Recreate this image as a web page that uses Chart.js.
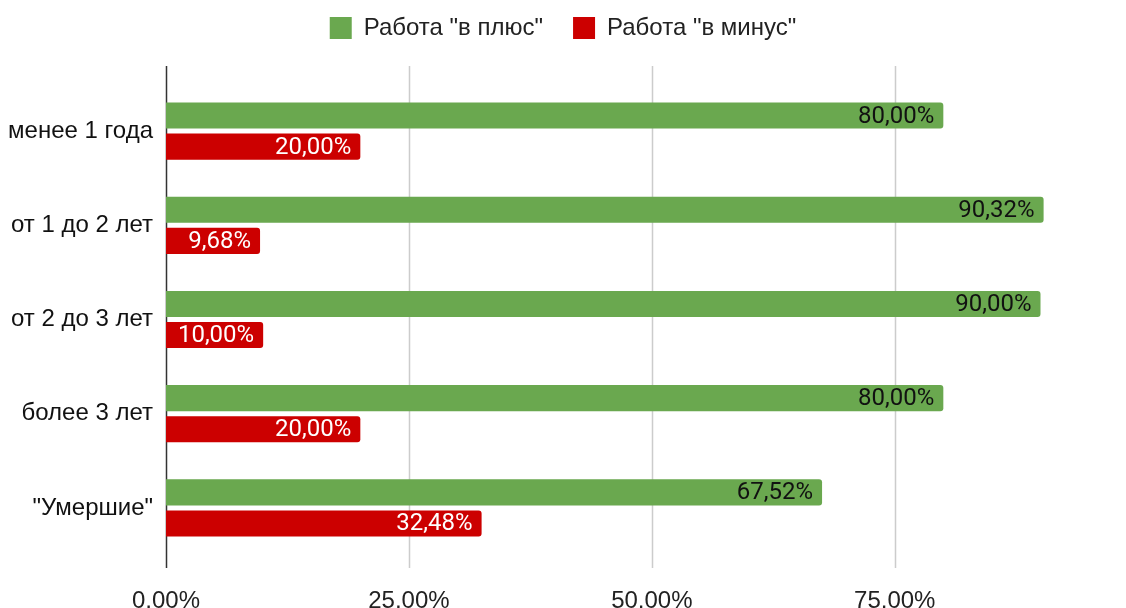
<!DOCTYPE html>
<html>
<head>
<meta charset="utf-8">
<script src="https://cdn.jsdelivr.net/npm/chart.js@4.4.1/dist/chart.umd.min.js"></script>
<style>
  html, body { margin: 0; padding: 0; background: #fff; }
  #wrap { width: 1126px; height: 608px; }
</style>
</head>
<body>
<div id="wrap"><canvas id="chart"></canvas></div>
<script>
const categories = ['менее 1 года', 'от 1 до 2 лет', 'от 2 до 3 лет', 'более 3 лет', '"Умершие"'];
const plusValues = [80.00, 90.32, 90.00, 80.00, 67.52];
const minusValues = [20.00, 9.68, 10.00, 20.00, 32.48];
const seriesNames = ['Работа "в плюс"', 'Работа "в минус"'];
const tickValues = [0, 25, 50, 75];

const fmt = v => v.toFixed(2).replace('.', ',') + '%';
const axisFont = "'Liberation Sans', Arial, sans-serif";

// легенда: фиксированная высота
const legendHeight = {
    id: 'legendHeight',
    beforeInit(chart) {
        const origFit = chart.legend.fit;
        chart.legend.fit = function () {
            origFit.bind(chart.legend)();
            this.height = 98;
        };
    }
};

// вертикальные линии сетки, выходящие за область графика
const gridLines = {
    id: 'gridLines',
    beforeDatasetsDraw(chart) {
        const ctx = chart.ctx;
        const x = chart.scales.x;
        const area = chart.chartArea;
        ctx.save();
        tickValues.forEach(v => {
            const px = Math.round(x.getPixelForValue(v)) + 0.5;
            ctx.strokeStyle = v === 0 ? '#333333' : '#cccccc';
            ctx.lineWidth = 1.5;
            ctx.beginPath();
            ctx.moveTo(px, area.top - 18);
            ctx.lineTo(px, area.bottom + 13);
            ctx.stroke();
        });
        ctx.restore();
    }
};

// подписи значений внутри столбцов
const barLabels = {
    id: 'barLabels',
    afterDatasetsDraw(chart) {
        const ctx = chart.ctx;
        ctx.save();
        ctx.font = '24px Roboto';
        ctx.textAlign = 'right';
        ctx.textBaseline = 'middle';
        chart.data.datasets.forEach((ds, i) => {
            const meta = chart.getDatasetMeta(i);
            ctx.fillStyle = i === 0 ? '#111111' : '#ffffff';
            meta.data.forEach((bar, j) => {
                ctx.fillText(fmt(ds.data[j]), bar.x - 9, bar.y + 1);
            });
        });
        ctx.restore();
    }
};

new Chart(document.getElementById('chart'), {
    type: 'bar',
    data: {
        labels: categories,
        datasets: [{
            label: seriesNames[0],
            data: plusValues,
            backgroundColor: '#6aa84f',
            borderRadius: { topRight: 3, bottomRight: 3 },
            borderSkipped: false,
            categoryPercentage: 0.66,
            barPercentage: 0.84
        }, {
            label: seriesNames[1],
            data: minusValues,
            backgroundColor: '#cc0000',
            borderRadius: { topRight: 3, bottomRight: 3 },
            borderSkipped: false,
            categoryPercentage: 0.66,
            barPercentage: 0.84
        }]
    },
    options: {
        indexAxis: 'y',
        responsive: true,
        maintainAspectRatio: false,
        animation: false,
        layout: { padding: { left: 0, right: 0, top: -14, bottom: 0 } },
        plugins: {
            legend: {
                position: 'top',
                labels: {
                    boxWidth: 22,
                    boxHeight: 22,
                    padding: 30,
                    color: '#222222',
                    font: { family: axisFont, size: 24 }
                }
            },
            tooltip: { enabled: false }
        },
        scales: {
            x: {
                min: 0,
                max: 98.8,
                afterBuildTicks: axis => {
                    axis.ticks = tickValues.map(v => ({ value: v }));
                },
                afterFit: scale => { scale.height = 53; },
                grid: { display: false, drawTicks: false },
                border: { display: false },
                ticks: {
                    padding: 32,
                    color: '#222222',
                    font: { family: axisFont, size: 24 },
                    callback: v => fmt(v)
                }
            },
            y: {
                afterFit: scale => { scale.width = 166; },
                grid: { display: false, drawTicks: false },
                border: { display: false },
                ticks: {
                    padding: 13,
                    color: '#111111',
                    font: { family: axisFont, size: 24 }
                }
            }
        }
    },
    plugins: [legendHeight, gridLines, barLabels]
});
</script>
</body>
</html>
